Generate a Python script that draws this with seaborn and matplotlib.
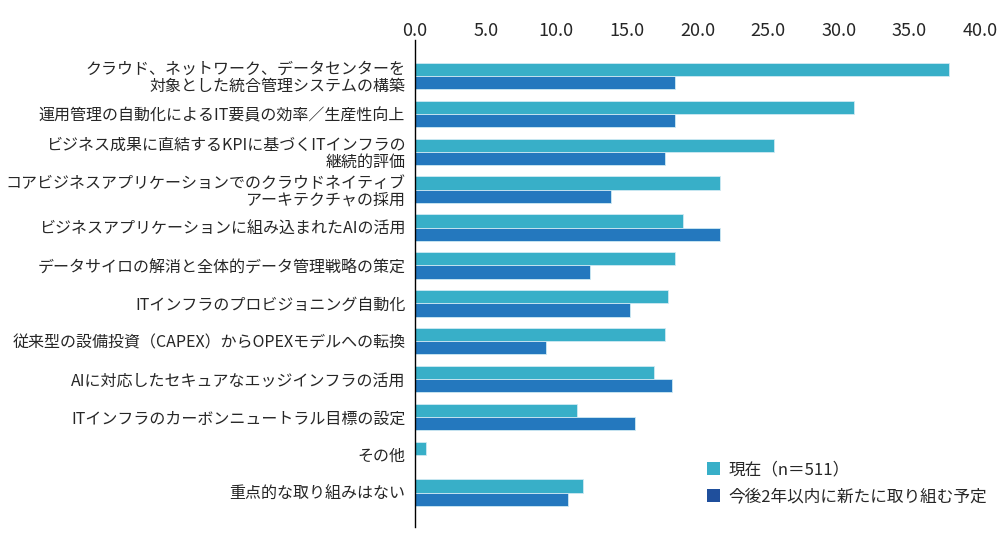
import seaborn as sns
import numpy as np
import pandas as pd
import matplotlib.pyplot as plt
from matplotlib.patches import Patch

categories = [
    'クラウド、ネットワーク、データセンターを\n対象とした統合管理システムの構築',
    '運用管理の自動化によるIT要員の効率／生産性向上',
    'ビジネス成果に直結するKPIに基づくITインフラの\n継続的評価',
    'コアビジネスアプリケーションでのクラウドネイティブ\nアーキテクチャの採用',
    'ビジネスアプリケーションに組み込まれたAIの活用',
    'データサイロの解消と全体的データ管理戦略の策定',
    'ITインフラのプロビジョニング自動化',
    '従来型の設備投資（CAPEX）からOPEXモデルへの転換',
    'AIに対応したセキュアなエッジインフラの活用',
    'ITインフラのカーボンニュートラル目標の設定',
    'その他',
    '重点的な取り組みはない',
]
current = [37.8, 31.1, 25.4, 21.6, 19.0, 18.4, 17.9, 17.7, 16.9, 11.5, 0.8, 11.9]
planned = [18.4, 18.4, 17.7, 13.9, 21.6, 12.4, 15.2, 9.3, 18.2, 15.6, 0.0, 10.8]
series_names = ['現在（n＝511）', '今後2年以内に新たに取り組む予定']
x_ticks = [0, 5, 10, 15, 20, 25, 30, 35, 40]

df = pd.DataFrame({
    'category': categories * 2,
    'value': current + planned,
    'series': [series_names[0]] * len(categories) + [series_names[1]] * len(categories),
})

sns.set_style('white')
plt.rcParams['font.family'] = ['Noto Sans CJK JP', 'DejaVu Sans']

bar_colors = ['#38AFC8', '#2478BE']
legend_colors = ['#38AFC8', '#1F4F9C']

fig = plt.figure(figsize=(10, 5.43), dpi=100)
ax = fig.add_axes([0.415, 0.03, 0.565, 0.896])

sns.barplot(data=df, x='value', y='category', hue='series', orient='h',
            palette=bar_colors, saturation=1, width=0.7,
            edgecolor='#cfeaf3', linewidth=0.6,
            errorbar=None, legend=False, ax=ax)

ax.set_xlim(0, 40)
ax.set_ylim(len(categories) - 0.1, -0.95)
ax.xaxis.tick_top()
ax.set_xticks(x_ticks)
ax.set_xticklabels([f'{t:.1f}' for t in x_ticks], fontsize=13)
ax.tick_params(axis='x', length=0, pad=0)
ax.tick_params(axis='y', length=0, pad=7, labelsize=11.5)
for lbl in ax.get_yticklabels():
    lbl.set_linespacing(1.0)
ax.set_xlabel('')
ax.set_ylabel('')

for side in ['top', 'right', 'bottom']:
    ax.spines[side].set_visible(False)
ax.spines['left'].set_color('black')
ax.spines['left'].set_linewidth(1.0)

handles = [Patch(facecolor=c, edgecolor='none') for c in legend_colors]
ax.legend(handles, series_names, loc='upper left', bbox_to_anchor=(0.49, 0.165),
          frameon=False, fontsize=12, handlelength=0.8, handleheight=0.8,
          handletextpad=0.5, labelspacing=0.6)

fig.savefig('out.png', dpi=100)
